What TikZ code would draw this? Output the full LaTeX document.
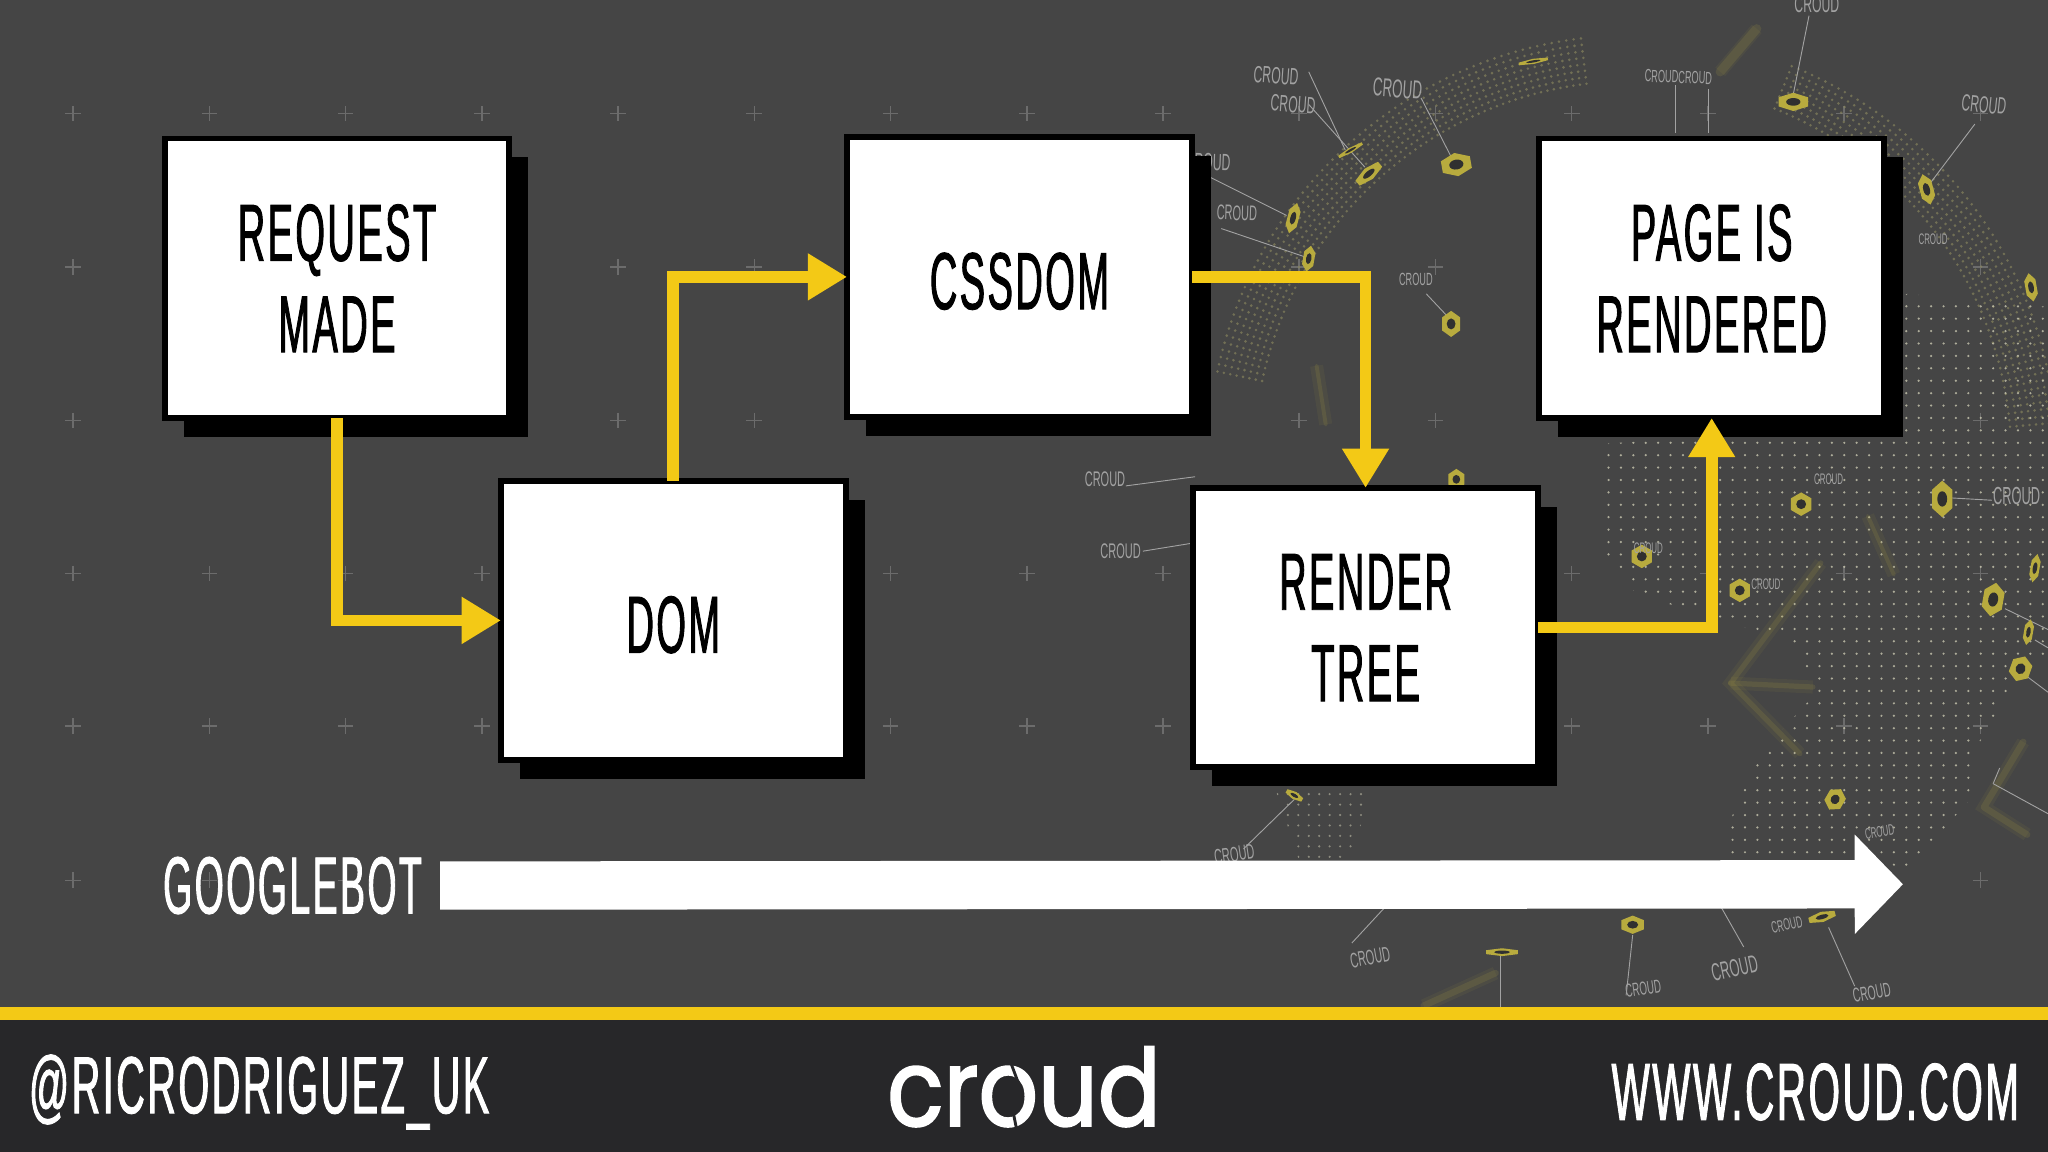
\documentclass[tikz,border=0pt]{standalone}
\usepackage{fontspec}
\newfontfamily\bebas[FakeStretch=0.47,FakeBold=1.1,LetterSpace=3]{Liberation Sans}
\newfontfamily\bebaswide[FakeStretch=0.49,FakeBold=1.1,LetterSpace=3]{Liberation Sans}
\newfontfamily\bebasthin[FakeStretch=0.52]{Liberation Sans}
\newfontfamily\logofont[FakeStretch=0.87,FakeBold=1.8]{Poppins}
\usetikzlibrary{%
  shapes,
  arrows.meta,
  positioning,
  calc,
  shadows
}
\definecolor{slate}{HTML}{454545}
\definecolor{barcolor}{HTML}{272729}
\definecolor{croudyellow}{HTML}{F3C916}
\definecolor{olive}{HTML}{B8AB3E}
\definecolor{crossgrey}{HTML}{6C6C6C}
\definecolor{taggrey}{HTML}{A2A2A2}
\definecolor{dotgrey}{HTML}{C9C7B0}
\definecolor{ringcolor}{HTML}{8F8C60}
\tikzstyle{squareblock}=[draw=black, fill=white, rectangle, line width=4.5pt, minimum height=214pt, minimum width=264pt, outer sep=0pt, align=center, font=\bebas\fontsize{62}{70}\selectfont, execute at begin node={\leavevmode\rule{0pt}{50pt}}, general shadow={fill=black, shadow xshift=14.5pt, shadow yshift=-14.5pt}]
\tikzstyle{yellowline}=[draw=croudyellow, line width=9pt, -{Triangle[length=30pt, width=34pt]}]
\tikzstyle{whitearrow}=[draw=white, line width=37pt, -{Triangle[length=37pt, width=74pt]}]
\tikzstyle{whitetext}=[text=white, inner sep=0pt, font=\bebas\fontsize{62}{70}\selectfont]
\tikzstyle{tag}=[text=taggrey, inner sep=0pt, font=\bebasthin\fontsize{18}{18}\selectfont]
\tikzstyle{leader}=[draw=taggrey, line width=0.7pt]
\tikzstyle{streak}=[draw=olive, opacity=0.14, line cap=round, line join=round, preaction={draw=olive, opacity=0.07, line width=10pt}]
\begin{document}
\begin{tikzpicture}[x=1pt, y=-1pt]
  \useasboundingbox (0,0) rectangle (1568,882);
  \fill[slate] (0,0) rectangle (1568,882);
  \begin{scope}
    \clip (0,0) rectangle (1568,771);
    % grid of crosses
    \foreach \x in {0,...,14}
      \foreach \y in {87,204.5,322,439,556,674}
        \draw[crossgrey, line width=1.2pt] ($(56,\y)+(\x*104.3,0)$) +(-6,0) -- +(6,0) +(0,-6) -- +(0,6);
    % globe
    \fill[ringcolor, opacity=0.6] \foreach \r in {290,295,...,325} { \foreach \a in {-168,-167,...,-97} { ($(1250,352)+(\a:\r)$) circle (1.1) } };
    \fill[ringcolor, opacity=0.6] \foreach \r in {290,295,...,325} { \foreach \a in {-68,-67,...,-5} { ($(1250,352)+(\a:\r)$) circle (1.1) } };
    \begin{scope}
      \clip (1225,340) -- (1300,335) -- (1460,225) -- (1568,235) -- (1568,500) -- (1539,530) -- (1514,571) -- (1506,615) -- (1454,671) -- (1325,659) -- (1322,635) -- (1345,579) -- (1370,553) -- (1388,533) -- (1383,512) -- (1368,487) -- (1317,477) -- (1250,452) -- (1225,421) -- cycle;
      \fill[dotgrey, opacity=0.8] \foreach \x in {1222,1231.5,...,1568} { \foreach \y in {225,234.5,...,675} { (\x,\y) circle (0.95) } };
    \end{scope}
    \begin{scope}
      \clip (975,600) -- (1045,600) -- (1040,650) -- (1000,675) -- cycle;
      \fill[dotgrey, opacity=0.55] \foreach \x in {970,978,...,1050} { \foreach \y in {600,608,...,680} { (\x,\y) circle (0.9) } };
    \end{scope}
    \draw[streak, line width=7pt] (1345,22) -- (1317,55);
    \draw[streak, line width=4pt] (1394,431) -- (1325,523) -- (1378,577);
    \draw[streak, line width=4pt] (1325,523) -- (1388,526);
    \draw[streak, line width=3pt] (1008,280) -- (1015,325);
    \draw[streak, line width=3pt] (1430,395) -- (1450,440);
    \draw[streak, line width=5pt] (1090,770) -- (1145,745);
    \draw[streak, line width=5pt] (1549,568) -- (1519,618) -- (1552,639);
    % leader lines
    \foreach \xa/\ya/\xb/\yb in {1385/12/1373/72, 1002/55/1030/115, 1002/80/1045/128, 1088/75/1112/122, 1283/65/1283/102, 1308/68/1308/102, 1512/95/1478/140, 925/135/985/165, 935/175/1000/197, 1092/225/1108/242, 862/372/915/365, 875/422/912/416, 1525/383/1490/381, 991/612/952/650, 1035/722/1060/695, 1149/732/1149/771, 1250/716/1245/762, 1335/725/1318/695, 1400/710/1420/755, 1526/600/1568/623, 1531/588/1526/600, 1535/466/1568/482, 1558/490/1568/496, 1552/518/1568/530}
      \draw[leader] (\xa,\ya) -- (\xb,\yb);
    % markers
    \foreach \x/\y/\w/\h/\r in {1373/78/13/7/0, 1174/47/13/2/10, 1034/115/12/2/30, 1048/133/13/5/40, 1115/126/13/9/10, 1475/145/6/12/15, 990/167/5/12/-15, 1002/198/5/10/-10, 1111/248/8/10/0, 1115/367/7/8/0, 1487/382/9/14/0, 1379/386/9/9/0, 1332/452/9/9/0, 1257/426/9/9/0, 1526/459/9/13/-10, 1553/484/4/10/-10, 1547/512/9/10/-20, 1558/435/4/11/-10, 1555/220/5/11/10, 991/609/8/3/-30, 1150/729/14/3/0, 1250/708/10/7/0, 1395/702/12/4/15, 1405/612/8/9/-30}
      {
        \fill[olive, shift={(\x,\y)}, rotate=\r, xscale=\w, yscale=\h] (30:1) -- (90:1) -- (150:1) -- (210:1) -- (270:1) -- (330:1) -- cycle;
        \fill[slate!70!black, shift={(\x,\y)}, rotate=\r, xscale=\w, yscale=\h] (0,0) circle (0.42);
      }
    % tags
    \foreach \x/\y/\r/\s [count=\i] in {1391/3/0/1, 977/58/-4/1, 990/80/-4/1, 1070/68/-4/1.1, 1285/59/-2/.75, 1519/80/-6/1, 925/124/-2/1, 947/163/-2/.9, 1084/214/0/.75, 846/367/0/.9, 858/422/0/.9, 1400/367/0/.65, 1544/380/0/1.05, 1480/183/0/.65, 945/654/8/.9, 1049/733/10/.9, 1258/757/8/.8, 1328/741/12/1.05, 1368/708/12/.7, 1433/760/10/.85, 1439/637/8/.65, 1352/447/0/.65, 1262/420/0/.65}
      \node[tag, rotate=\r, scale=\s] (tag\i) at (\x,\y) {\ifnum\i=5 CROUDCROUD\else CROUD\fi};
  \end{scope}
  % footer
  \fill[barcolor] (0,781) rectangle (1568,882);
  \fill[croudyellow] (0,771) rectangle (1568,781);
  % blocks
  \node[squareblock] (block1) at (258,213) {REQUEST\\MADE};
  \node[squareblock, below right=48pt and -6.5pt of block1] (block2) {DOM};
  \node[squareblock, above right=49pt and 1pt of block2] (block3) {CSSDOM};
  \node[squareblock, below right=54.5pt and 1pt of block3] (block4) {RENDER\\TREE};
  \node[squareblock, above right=53.5pt and 1pt of block4] (block5) {PAGE IS\\RENDERED};
  \draw[yellowline] (block1.south) |- (block2.west);
  \draw[yellowline] (block2.north) |- (block3.west);
  \draw[yellowline] (block3.east) -| (block4.north);
  \draw[yellowline] (block4.east) -| (block5.south);
  % timeline
  \node[whitetext, xscale=0.985, inner xsep=14pt, anchor=east] (bot1) at (337,678) {GOOGLEBOT};
  \coordinate (output1) at (1457,677);
  \draw[whitearrow] (bot1.east) -- (output1);
  \node[whitetext, font=\bebaswide\fontsize{62}{70}\selectfont, anchor=west] (handle1) at (22,836) {@RICRODRIGUEZ\_UK};
  \node[whitetext, xscale=1.02, font=\bebaswide\fontsize{62}{70}\selectfont, anchor=east] (site1) at (1546,836) {WWW.CROUD.COM};
  \node[text=white, inner sep=0pt, anchor=base, font=\logofont\fontsize{82}{82}\selectfont] (logo1) at (784,862) {croud};
  \draw[barcolor, line width=2.2pt] (774,814) -- (780,830);
  \draw[barcolor, line width=2.2pt] (775,848) -- (779,868);
\end{tikzpicture}
\end{document}
